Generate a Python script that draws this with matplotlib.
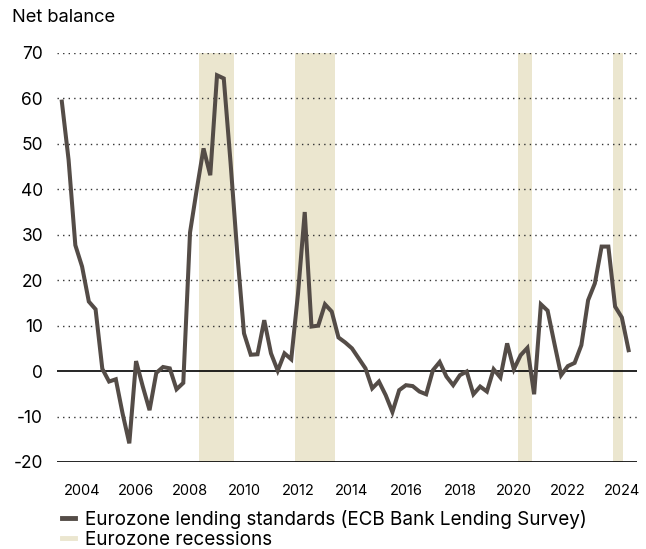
import matplotlib
matplotlib.use('Agg')
import matplotlib.pyplot as plt
from matplotlib.lines import Line2D
import numpy as np

plt.rcParams['font.family'] = ['Inter', 'DejaVu Sans']
plt.rcParams['axes.unicode_minus'] = False

# ECB Bank Lending Survey, net balance, quarterly (first quarter = 2003Q1)
start_year = 2003.25
lending_standards = [
    59.3, 46.5, 27.7, 23.0, 15.3, 13.6, 0.5, -2.3, -1.8, -9.3,
    -15.9, 2.2, -3.4, -8.6, -0.4, 0.9, 0.6, -4.0, -2.6, 30.5,
    40.0, 49.0, 43.1, 65.1, 64.4, 46.0, 26.0, 8.3, 3.6, 3.7,
    11.2, 3.9, 0.1, 3.9, 2.6, 17.0, 35.0, 9.8, 10.0, 14.7,
    13.1, 7.4, 6.3, 5.0, 2.8, 0.6, -3.8, -2.3, -5.3, -9.0,
    -4.2, -3.1, -3.3, -4.5, -5.1, 0.2, 2.0, -1.2, -3.1, -0.9,
    -0.1, -5.1, -3.4, -4.5, 0.4, -1.4, 6.1, 0.4, 3.5, 5.1,
    -5.1, 14.7, 13.3, 6.1, -0.9, 1.1, 1.8, 5.7, 15.6, 19.3,
    27.4, 27.4, 14.2, 11.8, 4.6,
]
recession_start = [2008.33, 2011.90, 2020.14, 2023.68]
recession_end = [2009.63, 2013.37, 2020.66, 2024.03]
year_ticks = list(range(2004, 2025, 2))
y_ticks = list(range(-20, 71, 10))

LINE = '#544c47'
REC = '#ebe6cf'

quarters = start_year + np.arange(len(lending_standards)) / 4

fig = plt.figure(figsize=(6.46, 5.49), dpi=100)
ax = fig.add_axes([0.0882, 0.1585, 0.8978, 0.745])

for s, e in zip(recession_start, recession_end):
    ax.axvspan(s, e, color=REC, lw=0, zorder=0)

for v in y_ticks:
    if v in (0, -20):
        ax.axhline(v, color='black', lw=1.2, zorder=1)
    else:
        ax.axhline(v, color='#333333', lw=1.0, ls=(0, (1, 3)), zorder=1)

ax.plot(quarters, lending_standards, color=LINE, lw=2.9, zorder=3,
        solid_joinstyle='miter')

ax.set_xlim(2003.07, 2024.56)
ax.set_ylim(-20, 70)
ax.set_yticks(y_ticks)
ax.set_xticks(year_ticks)
ax.set_xticklabels([str(y) for y in year_ticks], fontsize=10.5)
ax.tick_params(axis='y', labelsize=12.5, length=0, pad=10)
ax.tick_params(axis='x', length=0, pad=16)
for sp in ax.spines.values():
    sp.set_visible(False)

fig.text(0.018, 0.969, 'Net balance', fontsize=13.2, ha='left', va='center')

handles = [
    Line2D([0], [0], color=LINE, lw=3.5),
    Line2D([0], [0], color=REC, lw=3.5),
]
labels = ['Eurozone lending standards (ECB Bank Lending Survey)',
          'Eurozone recessions']
fig.legend(handles, labels, loc='lower left', bbox_to_anchor=(0.076, -0.024),
           frameon=False, fontsize=13.6, handlelength=0.65, handletextpad=0.55,
           labelspacing=0.12, borderpad=0.2)

fig.savefig('out.png', dpi=100)
